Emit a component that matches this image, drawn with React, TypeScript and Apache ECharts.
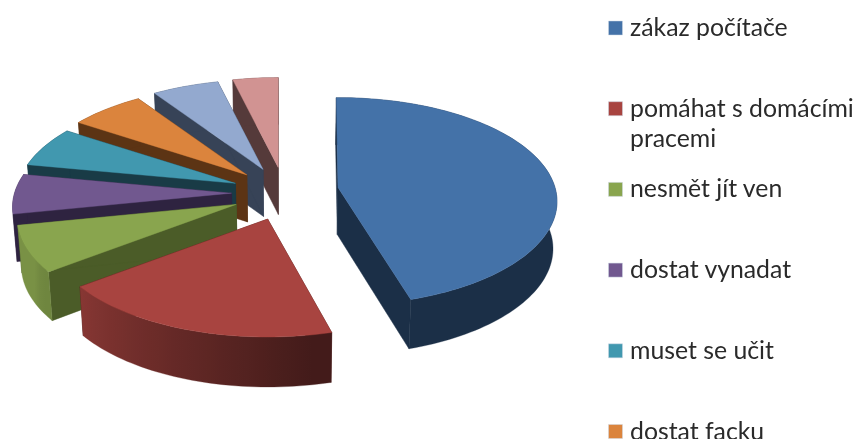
import React, { useEffect, useRef } from "react";
import * as echarts from "echarts";

const categories = [
  "zákaz počítače",
  "pomáhat s domácími\npracemi",
  "nesmět jít ven",
  "dostat vynadat",
  "muset se učit",
  "dostat facku",
];
const sliceValues = [45.7, 18.9, 7.2, 6.2, 6.3, 6.3, 5.6, 3.8];
const topColors = ["#4472A8", "#A84440", "#89A54E", "#71588F", "#4198AF", "#DB843D", "#93A9CF", "#D19392"];
const baseRgb = [
  [69, 114, 168], [168, 68, 64], [137, 165, 78], [113, 88, 143],
  [65, 152, 175], [219, 132, 61], [147, 169, 207], [209, 147, 146],
];
const edgeColors = ["#1B2F47", "#4A1B19", "#4B5C28", "#2E2340", "#193B46", "#5C3414", "#374357", "#553A3A"];
// Drawing trims in degrees: perspective pulls the exploded slices' near edges apart.
const startTrim = [-0.5, 0.6, 0, 0, 0, 0, 0, 0];
const endTrim = [1.5, 0, 0, 0, 0, 0, 0, 0];

const CX = 284.5, CY = 193, A = 217, B = 102, P = 0.135;
const EX = 53, EY_FAR = 25.7, EY_NEAR = 27.5, SHRINK = 0.015, VX = 290;
const BLUE_SHIFT_X = 1, BLUE_SHIFT_Y = -2;
const rad = (d: number) => (d * Math.PI) / 180;
const total = sliceValues.reduce((a, b) => a + b, 0);

const starts: number[] = [];
sliceValues.reduce((acc, v, i) => {
  starts[i] = acc;
  return acc + (v / total) * 360;
}, 0);

const project = (t: number) => {
  const c = Math.cos(rad(t));
  const s = 1 / (1 + P * c);
  return [A * Math.sin(rad(t)) * s, -B * c * s];
};
const depthAt = (y: number) => 47 + Math.max(0, Math.min(3, (3 * (y - 190)) / 145));
const drop = (p: number[]) => [p[0] + (VX - p[0]) * SHRINK, p[1] + depthAt(p[1])];
const wallFactor = (t: number) => {
  if (t <= 170) return 0.4;
  if (t <= 240) return 0.4 + ((t - 170) / 70) * 0.45;
  return 0.88;
};

const renderItem = (params: any, api: any) => {
  const i = sliceValues.length - 1 - params.dataIndex;
  const sweep = (api.value(0) / total) * 360;
  const mid = starts[i] + sweep / 2;
  const t0 = starts[i] + startTrim[i];
  const t1 = starts[i] + sweep - endTrim[i];
  const cosMid = Math.cos(rad(mid));
  const ax = CX + EX * Math.sin(rad(mid)) + (i === 0 ? BLUE_SHIFT_X : 0);
  const ay = CY - (cosMid < 0 ? EY_NEAR : EY_FAR) * cosMid + (i === 0 ? BLUE_SHIFT_Y : 0);
  const apex = [ax, ay];
  const span = t1 - t0;
  const steps = Math.max(6, Math.round(span / 1.5));
  const arc: number[][] = [];
  for (let k = 0; k <= steps; k++) {
    const t = t0 + (span * k) / steps;
    const p = project(t);
    arc.push([ax + p[0], ay + p[1]]);
  }
  const children: any[] = [];
  const poly = (pts: number[][], color: any, lw = 0.5) =>
    children.push({
      type: "polygon",
      shape: { points: pts },
      style: { fill: color, stroke: color, lineWidth: lw },
    });
  poly([apex, arc[0], drop(arc[0]), drop(apex)], edgeColors[i]);
  poly([apex, arc[steps], drop(arc[steps]), drop(apex)], edgeColors[i]);
  // The curved wall is one polygon, shaded left to right where it faces the viewer's left.
  const lit = t0 >= 160 && t1 <= 262;
  let wall: any = edgeColors[i];
  if (lit) {
    const rgb = baseRgb[i];
    const x0 = arc[steps][0];
    const x1 = arc[0][0];
    const colorStops = [];
    for (let k = steps; k >= 0; k -= 2) {
      const t = t0 + (span * k) / steps;
      const f = wallFactor(t);
      colorStops.push({
        offset: (arc[k][0] - x0) / (x1 - x0),
        color: `rgb(${Math.round(rgb[0] * f)},${Math.round(rgb[1] * f)},${Math.round(rgb[2] * f)})`,
      });
    }
    wall = { type: "linear", x: x0, y: 0, x2: x1, y2: 0, global: true, colorStops };
  }
  poly([...arc, ...arc.map(drop).reverse()], wall, 0.3);
  poly([apex, ...arc], topColors[i], 0.4);
  return { type: "group", children };
};

export default function App() {
  const ref = useRef<HTMLDivElement>(null);
  useEffect(() => {
    document.body.style.margin = "0";
    document.body.style.background = "#fff";
    const chart = echarts.init(ref.current!, undefined, { renderer: "svg" });
    const legend: any[] = [];
    categories.forEach((name, i) => {
      const yc = 28 + 80.7 * i;
      legend.push({
        type: "rect",
        shape: { x: 608.5, y: yc - 7, width: 14, height: 14 },
        style: { fill: topColors[i], stroke: "#cfd8e4", lineWidth: 0.5 },
      });
      legend.push({
        type: "text",
        x: 630,
        y: yc - 16.5,
        style: {
          text: name,
          font: "24.8px Lato",
          lineHeight: 30,
          fill: "#2a2a2a",
          textAlign: "left",
          textVerticalAlign: "top",
        },
      });
    });
    chart.setOption({
      animation: false,
      backgroundColor: "#ffffff",
      graphic: legend,
      series: [
        {
          type: "custom",
          coordinateSystem: "none",
          renderItem,
          silent: true,
          data: [...sliceValues].reverse().map((v) => [v]),
        },
      ],
    });
    return () => chart.dispose();
  }, []);
  return (
    <div
      ref={ref}
      style={{
        position: "absolute",
        left: 0,
        top: 0,
        width: 858,
        height: 439,
        overflow: "hidden",
        filter: "blur(0.4px)",
      }}
    />
  );
}
